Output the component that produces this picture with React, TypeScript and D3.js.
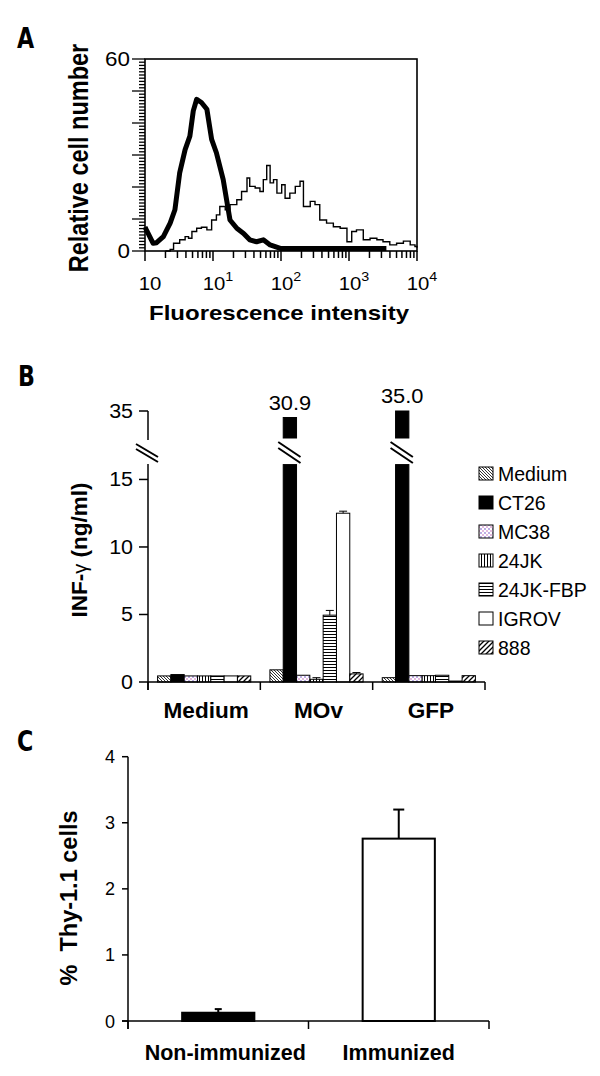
import React from 'react';
import * as d3 from 'd3';

// ---------- Panel A: flow cytometry histograms ----------
const thickLog = [0.0, 0.02, 0.12, 0.17, 0.27, 0.37, 0.44, 0.51, 0.59, 0.66, 0.71, 0.76, 0.83, 0.91, 0.98, 1.05, 1.15, 1.2, 1.25, 1.35, 1.45, 1.54, 1.64, 1.74, 1.84, 1.99, 2.6, 3.2, 3.55];
const thickCount = [7.5, 6.6, 2.4, 2.6, 4.5, 8.7, 12.9, 24.4, 31.7, 35.9, 43.8, 47.4, 46.4, 44.3, 34.9, 30.7, 22.3, 16.0, 9.7, 7.1, 5.5, 3.5, 2.9, 3.5, 1.9, 0.8, 0.8, 0.8, 0.8];
const thinLog = [0.3, 0.37, 0.42, 0.51, 0.59, 0.64, 0.69, 0.76, 0.83, 0.91, 0.98, 1.05, 1.1, 1.18, 1.25, 1.35, 1.42, 1.5, 1.54, 1.62, 1.69, 1.74, 1.79, 1.84, 1.89, 1.94, 2.01, 2.06, 2.13, 2.21, 2.28, 2.33, 2.43, 2.5, 2.57, 2.67, 2.77, 2.87, 2.97, 3.04, 3.11, 3.21, 3.31, 3.41, 3.5, 3.6, 3.7, 3.8, 3.9, 3.97, 4.0];
const thinCount = [0, 0.5, 2.4, 3.5, 4.5, 4.0, 6.1, 7.1, 7.4, 6.6, 9.7, 11.3, 13.9, 12.9, 14.5, 16.0, 18.6, 22.8, 20.2, 19.7, 18.6, 22.3, 26.7, 21.3, 22.3, 18.1, 20.7, 16.5, 18.1, 20.2, 21.8, 13.9, 15.5, 14.5, 9.7, 8.7, 7.6, 7.1, 2.9, 6.1, 6.6, 3.5, 4.0, 3.5, 2.9, 1.9, 2.4, 3.1, 1.9, 1.4, 1.0];
const xTickValuesA = [1, 10, 100, 1000, 10000];
const xTickBaseA = ['10', '10', '10', '10', '10'];
const xTickSupA = ['', '1', '2', '3', '4'];
const yTickValuesA = [0, 60];

// ---------- Panel B: IFN-gamma bars ----------
const categoriesB = ['Medium', 'MOv', 'GFP'];
const seriesB = ['Medium', 'CT26', 'MC38', '24JK', '24JK-FBP', 'IGROV', '888'];
const valuesMedium = [0.45, 0.55, 0.45, 0.45, 0.45, 0.45, 0.45];
const valuesMOv = [0.9, 30.9, 0.5, 0.2, 4.95, 12.5, 0.6];
const valuesGFP = [0.32, 35.0, 0.47, 0.47, 0.5, 0.07, 0.47];
const errorsMedium = [0, 0, 0, 0, 0, 0, 0];
const errorsMOv = [0, 0, 0, 0.12, 0.35, 0.15, 0.1];
const errorsGFP = [0, 0, 0, 0, 0, 0, 0];
const yTicksLowB = [0, 5, 10, 15];
const yTicksUpB = [35];

// ---------- Panel C: Thy-1.1 ----------
const groupsC = ['Non-immunized', 'Immunized'];
const valuesC = [0.125, 2.76];
const errorsC = [0.055, 0.44];
const yTicksC = [0, 1, 2, 3, 4];

// ---------- styles ----------
const FONT = "'Liberation Sans', Arial, Helvetica, sans-serif";
const seriesFill = ['url(#pMedium)', '#000', 'url(#pMC38)', 'url(#p24JK)', 'url(#pFBP)', '#fff', 'url(#p888)'];

function T({ x, y, sx = 1, rot = 0, anchor = 'start', size = 18, weight = 'normal', family = FONT, children }: any) {
  return (
    <text
      transform={`translate(${x},${y}) scale(${sx},1) rotate(${rot})`}
      textAnchor={anchor}
      fontSize={size}
      fontWeight={weight}
      fontFamily={family}
      fill="#000"
      style={{ whiteSpace: 'pre' }}
    >
      {children}
    </text>
  );
}

const LETTER_FONT = "'DejaVu Sans Condensed', 'Liberation Sans Narrow', 'DejaVu Sans', sans-serif";

function PanelA() {
  const xA = d3.scaleLog().domain([1, 10000]).range([145, 417]);
  const yA = d3.scaleLinear().domain([0, 60]).range([251, 59]);
  const pts = (logs: number[], counts: number[]) => logs.map((l, i) => [xA(Math.pow(10, l)), yA(counts[i])] as [number, number]);
  const thick = d3.line().curve(d3.curveLinear)(pts(thickLog, thickCount)) || '';
  const thin = d3.line().curve(d3.curveStepAfter)(pts(thinLog, thinCount)) || '';
  const minorY = d3.range(0, 61, 1);
  const xTicksAll: number[] = [];
  for (let e = 0; e < 4; e++) for (let m = 1; m < 10; m++) xTicksAll.push(m * Math.pow(10, e));
  xTicksAll.push(10000);
  return (
    <g>
      <T x={17} y={48} size={29} weight="bold" family={LETTER_FONT} sx={0.85}>A</T>
      {/* y ticks */}
      {minorY.map((v) => (
        <line key={'ym' + v} x1={145 - (v % 10 === 0 ? 13 : 6)} x2={145} y1={yA(v)} y2={yA(v)} stroke="#000" strokeWidth={1.3} />
      ))}
      {yTickValuesA.map((v) => (
        <T key={'yl' + v} x={130} y={yA(v) + 7} anchor="end" size={19.5} sx={1.15}>{String(v)}</T>
      ))}
      {/* x ticks */}
      {xTicksAll.map((v, i) => {
        const major = Math.abs(Math.log10(v) - Math.round(Math.log10(v))) < 1e-9;
        return <line key={'xt' + i} x1={xA(v)} x2={xA(v)} y1={251} y2={251 + (major ? 10 : 7)} stroke="#000" strokeWidth={1.5} />;
      })}
      {xTickValuesA.map((v, i) => (
        <T key={'xl' + i} x={xA(v) + 5} y={290} anchor="middle" size={18.5} sx={1.1}>
          <tspan>{xTickBaseA[i]}</tspan>
          {xTickSupA[i] ? <tspan dy={-9} fontSize={13}>{xTickSupA[i]}</tspan> : null}
        </T>
      ))}
      {/* curves */}
      <path d={thin} fill="none" stroke="#000" strokeWidth={1.4} />
      <path d={thick} fill="none" stroke="#000" strokeWidth={5} strokeLinejoin="round" />
      <rect x={145} y={59} width={272} height={192} fill="none" stroke="#000" strokeWidth={1.6} />
      <T x={88} y={158} rot={-90} anchor="middle" size={23.5} weight="bold" sx={1.15}>Relative cell number</T>
      <T x={279} y={320} anchor="middle" size={20} weight="bold" sx={1.2}>Fluorescence intensity</T>
    </g>
  );
}

function PanelB() {
  const xB = d3.scaleBand().domain(categoriesB).range([148, 485]).paddingInner(0).paddingOuter(0);
  const xIn = d3.scaleBand().domain(seriesB).range([0, xB.bandwidth()]).paddingInner(0).paddingOuter(0.72);
  const yLow = d3.scaleLinear().domain([0, 16.1]).range([682, 464.6]);
  const yUp = d3.scaleLinear().domain([18, 35]).range([438, 411]);
  const lowMax = 16.1;
  const table = [
    { cat: 'Medium', vals: valuesMedium, errs: errorsMedium },
    { cat: 'MOv', vals: valuesMOv, errs: errorsMOv },
    { cat: 'GFP', vals: valuesGFP, errs: errorsGFP },
  ];
  const bw = xIn.bandwidth();
  return (
    <g>
      <T x={18} y={386} size={29} weight="bold" family={LETTER_FONT} sx={0.85}>B</T>
      {table.map((g) =>
        g.vals.map((v, i) => {
          const x0 = (xB(g.cat) as number) + (xIn(seriesB[i]) as number);
          const fill = seriesFill[i];
          if (v > lowMax) {
            const yTop = yUp(v);
            return (
              <g key={g.cat + i}>
                <rect x={x0} y={yTop} width={bw} height={438 - yTop} fill={fill} stroke="#000" strokeWidth={1} />
                <rect x={x0} y={yLow(lowMax)} width={bw} height={yLow(0) - yLow(lowMax)} fill={fill} stroke="#000" strokeWidth={1} />
                <line x1={x0 - 5} y1={442} x2={x0 + bw + 4} y2={457} stroke="#000" strokeWidth={2} />
                <line x1={x0 - 5} y1={448} x2={x0 + bw + 4} y2={463} stroke="#000" strokeWidth={2} />
                <T x={x0 + bw / 2} y={yTop - 8} anchor="middle" size={19.5} sx={1.12}>{v.toFixed(1)}</T>
              </g>
            );
          }
          const e = g.errs[i];
          const cx = x0 + bw / 2;
          return (
            <g key={g.cat + i}>
              <rect x={x0} y={yLow(v)} width={bw} height={Math.max(yLow(0) - yLow(v), 0.5)} fill={fill} stroke="#000" strokeWidth={1} />
              {e > 0 ? (
                <g stroke="#000" strokeWidth={1}>
                  <line x1={cx} x2={cx} y1={yLow(v)} y2={yLow(v + e)} />
                  <line x1={cx - 4} x2={cx + 4} y1={yLow(v + e)} y2={yLow(v + e)} />
                </g>
              ) : null}
            </g>
          );
        })
      )}
      {/* y axis */}
      <line x1={148} x2={148} y1={411} y2={440} stroke="#000" strokeWidth={1.5} />
      <line x1={148} x2={148} y1={464} y2={690} stroke="#000" strokeWidth={1.5} />
      <line x1={136} y1={444} x2={158} y2={457} stroke="#000" strokeWidth={2} />
      <line x1={136} y1={449} x2={158} y2={462} stroke="#000" strokeWidth={2} />
      {yTicksLowB.map((v) => (
        <g key={'yb' + v}>
          <line x1={139} x2={148} y1={yLow(v)} y2={yLow(v)} stroke="#000" strokeWidth={1.5} />
          <T x={133} y={yLow(v) + 7} anchor="end" size={19.5} sx={1.1}>{String(v)}</T>
        </g>
      ))}
      {yTicksUpB.map((v) => (
        <g key={'yu' + v}>
          <line x1={139} x2={148} y1={yUp(v)} y2={yUp(v)} stroke="#000" strokeWidth={1.5} />
          <T x={133} y={yUp(v) + 7} anchor="end" size={19.5} sx={1.1}>{String(v)}</T>
        </g>
      ))}
      {/* x axis */}
      <line x1={148} x2={485} y1={682} y2={682} stroke="#000" strokeWidth={1.5} />
      {[...categoriesB.map((c) => xB(c) as number), 485].map((x, i) => (
        <line key={'xb' + i} x1={x} x2={x} y1={682} y2={690} stroke="#000" strokeWidth={1.5} />
      ))}
      {categoriesB.map((c) => (
        <T key={'cl' + c} x={(xB(c) as number) + xB.bandwidth() / 2 + 2} y={718} anchor="middle" size={21.5} weight="bold" sx={1.05}>{c}</T>
      ))}
      <text transform="translate(87,550) rotate(-90)" textAnchor="middle" fontSize={22.5} fontWeight="bold" fontFamily={FONT}>
        INF-<tspan fontWeight="normal" fontSize={20}>γ</tspan> (ng/ml)
      </text>
      {/* legend */}
      {seriesB.map((s, i) => {
        const cy = 473.5 + 29 * i;
        return (
          <g key={'lg' + s}>
            <rect x={479} y={cy - 6.5} width={14} height={13} fill={seriesFill[i]} stroke="#000" strokeWidth={1} />
            <T x={498} y={cy + 7} size={19.5}>{s}</T>
          </g>
        );
      })}
    </g>
  );
}

function PanelC() {
  const xC = d3.scaleBand().domain(groupsC).range([128, 489]);
  const yC = d3.scaleLinear().domain([0, 4]).range([1021, 756.7]);
  const bw = xC.bandwidth() * 0.4;
  return (
    <g>
      <T x={17} y={751} size={29} weight="bold" family={LETTER_FONT} sx={0.85}>C</T>
      {groupsC.map((g, i) => {
        const cx = (xC(g) as number) + xC.bandwidth() / 2;
        const v = valuesC[i];
        const e = errorsC[i];
        const filled = i === 0;
        const capW = filled ? 7 : 11;
        return (
          <g key={g}>
            <line x1={cx} x2={cx} y1={yC(v)} y2={yC(v + e)} stroke="#000" strokeWidth={2} />
            <line x1={cx - capW / 2} x2={cx + capW / 2} y1={yC(v + e)} y2={yC(v + e)} stroke="#000" strokeWidth={2} />
            <rect x={cx - bw / 2} y={yC(v)} width={bw} height={yC(0) - yC(v)} fill={filled ? '#000' : '#fff'} stroke="#000" strokeWidth={2} />
          </g>
        );
      })}
      <line x1={128} x2={128} y1={756.7} y2={1029} stroke="#000" strokeWidth={1.5} />
      <line x1={122} x2={489} y1={1021} y2={1021} stroke="#000" strokeWidth={1.5} />
      {[...groupsC.map((g) => xC(g) as number), 489].map((x, i) => (
        <line key={'xc' + i} x1={x} x2={x} y1={1021} y2={1029} stroke="#000" strokeWidth={1.5} />
      ))}
      {yTicksC.map((v) => (
        <g key={'yc' + v}>
          <line x1={122} x2={128} y1={yC(v)} y2={yC(v)} stroke="#000" strokeWidth={1.5} />
          <T x={115} y={yC(v) + 6.5} anchor="end" size={18}>{String(v)}</T>
        </g>
      ))}
      {groupsC.map((g, i) => (
        <T key={'gl' + g} x={(xC(g) as number) + xC.bandwidth() / 2 + (i === 0 ? 7 : 0)} y={1060} anchor="middle" size={21.5} weight="bold">{g}</T>
      ))}
      <T x={77} y={898} rot={-90} anchor="middle" size={23.5} weight="bold">{'%  Thy-1.1 cells'}</T>
    </g>
  );
}

export default function App() {
  return (
    <svg width={600} height={1076} style={{ position: 'absolute', left: 0, top: 0, display: 'block', background: '#fff' }}>
      <defs>
        <pattern id="pMedium" width={3} height={3} patternUnits="userSpaceOnUse">
          <rect width={3} height={3} fill="#fff" />
          <path d="M0,0 L3,3 M-1,2 L1,4 M2,-1 L4,1" stroke="#000" strokeWidth={0.8} />
        </pattern>
        <pattern id="pMC38" width={4} height={4} patternUnits="userSpaceOnUse">
          <rect width={4} height={4} fill="#fff" />
          <circle cx={1} cy={1} r={0.9} fill="#9d86d8" />
          <circle cx={3} cy={3} r={0.9} fill="#d79ad0" />
        </pattern>
        <pattern id="p24JK" width={3} height={3} patternUnits="userSpaceOnUse">
          <rect width={3} height={3} fill="#fff" />
          <line x1={1.5} x2={1.5} y1={0} y2={3} stroke="#000" strokeWidth={1} />
        </pattern>
        <pattern id="pFBP" width={3} height={3} patternUnits="userSpaceOnUse">
          <rect width={3} height={3} fill="#fff" />
          <line x1={0} x2={3} y1={1.5} y2={1.5} stroke="#000" strokeWidth={1} />
        </pattern>
        <pattern id="p888" width={5} height={5} patternUnits="userSpaceOnUse">
          <rect width={5} height={5} fill="#fff" />
          <path d="M0,5 L5,0 M-1,1 L1,-1 M4,6 L6,4" stroke="#000" strokeWidth={1.3} />
        </pattern>
      </defs>
      <PanelA />
      <PanelB />
      <PanelC />
    </svg>
  );
}
